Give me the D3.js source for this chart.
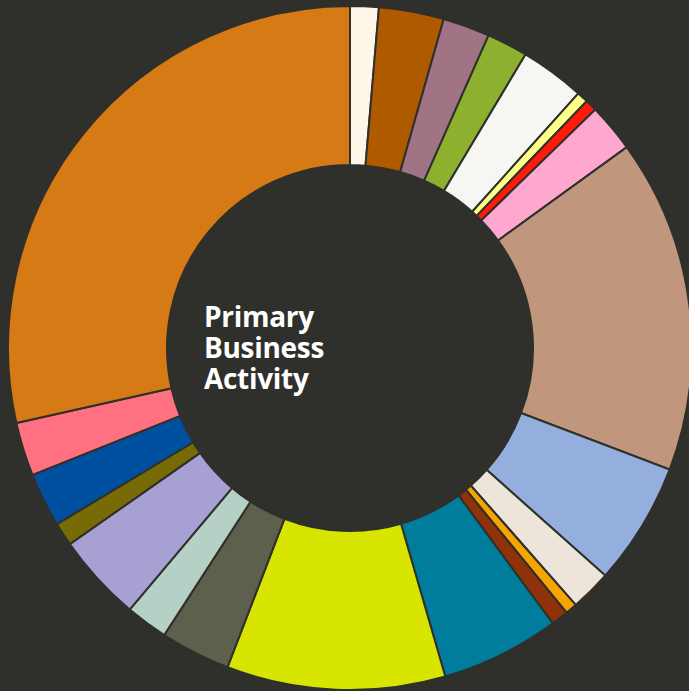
<!DOCTYPE html>
<html>
<head>
<meta charset="utf-8">
<script src="https://cdn.jsdelivr.net/npm/d3@7"></script>
<style>
  html, body { margin: 0; padding: 0; background: #2f302b; overflow: hidden; }
  svg { display: block; }
</style>
</head>
<body>
<script>
// slice shares (% of companies), read clockwise from 12 o'clock
const activities = [
  "a01","a02","a03","a04","a05","a06","a07","a08","a09","a10","a11",
  "a12","a13","a14","a15","a16","a17","a18","a19","a20","a21","a22"
]
const shares = [
  1.35, 3.07, 2.22, 1.94, 3.06, 0.53, 0.56, 2.28, 15.78, 5.81, 1.94,
  0.56, 0.81, 5.61, 10.33, 3.31, 2.0, 4.14, 1.11, 2.56, 2.53, 28.53
]
const colors = [
  "#fff6ea","#b05a00","#a07484","#8db12e","#f6f7f2","#fffe88","#ff1a0a",
  "#ffa8cf","#c0977d","#94aedd","#ede5d9","#f6a400","#8f320a","#007c9c",
  "#d8e500","#5c604c","#b5d0c4","#a7a0d3","#786b05","#0050a0","#ff7080","#d57a14"
]
const titleLines = ["Primary", "Business", "Activity"]

const width = 689
const height = 691
const cx = 350, cy = 348
const outerR = 342, innerR = 183

const data = activities.map((a, i) => ({ name: a, value: shares[i], color: colors[i] }))

const svg = d3.select("body")
    .append("svg")
    .attr("width", width)
    .attr("height", height)

svg.append("rect")
    .attr("width", width)
    .attr("height", height)
    .attr("fill", "#2f302b")

const pie = d3.pie()
    .value(d => d.value)
    .sort(null)

const arc = d3.arc()
    .innerRadius(innerR)
    .outerRadius(outerR)

const g = svg.append("g")
    .attr("transform", `translate(${cx},${cy})`)

g.selectAll("path")
    .data(pie(data))
    .join("path")
    .attr("d", arc)
    .attr("fill", d => d.data.color)
    .attr("stroke", "#2f302b")
    .attr("stroke-width", 2)

// centre title, one text per line
svg.selectAll("text.title")
    .data(titleLines)
    .join("text")
    .attr("class", "title")
    .attr("x", 204)
    .attr("y", (d, i) => 327 + i * 31)
    .attr("fill", "#ffffff")
    .style("font-family", "'Open Sans', Lato, sans-serif")
    .style("font-weight", 700)
    .style("font-size", "28px")
    .style("letter-spacing", "-0.3px")
    .text(d => d)
</script>
</body>
</html>
